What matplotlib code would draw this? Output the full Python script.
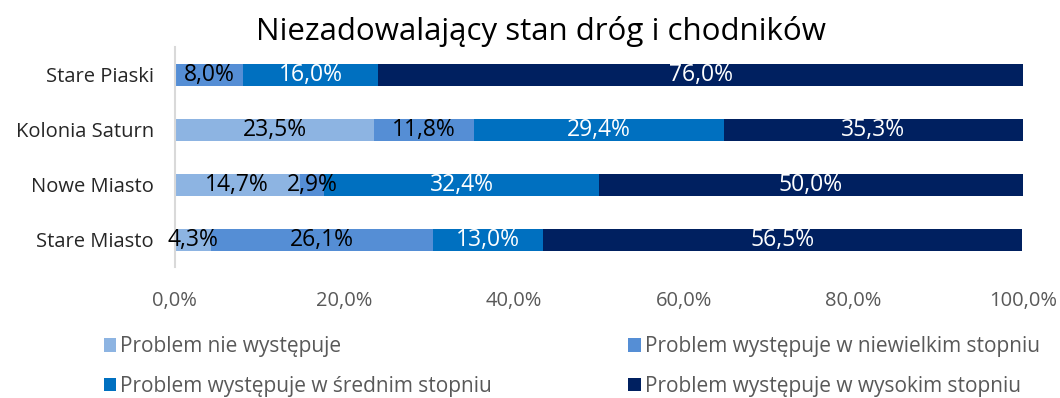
import matplotlib.pyplot as plt
import numpy as np

plt.rcParams['font.family'] = ['Open Sans', 'DejaVu Sans']

# districts, bottom to top
districts = ['Stare Miasto', 'Nowe Miasto', 'Kolonia Saturn', 'Stare Piaski']

# share of answers (%) per district
nie_wystepuje = [4.3, 14.7, 23.5, 0.0]
niewielki = [26.1, 2.9, 11.8, 8.0]
sredni = [13.0, 32.4, 29.4, 16.0]
wysoki = [56.5, 50.0, 35.3, 76.0]

series_names = ['Problem nie występuje',
                'Problem występuje w niewielkim stopniu',
                'Problem występuje w średnim stopniu',
                'Problem występuje w wysokim stopniu']
series = [nie_wystepuje, niewielki, sredni, wysoki]
colors = ['#8DB4E2', '#558ED5', '#0070C0', '#002060']
text_colors = ['black', 'black', 'white', 'white']

fig = plt.figure(figsize=(10.6, 3.98), dpi=100)
ax = fig.add_axes([0.165, 0.328, 0.8, 0.553])

y = np.arange(len(districts))
left = np.zeros(len(districts))
handles = []
for name, vals, col, tcol in zip(series_names, series, colors, text_colors):
    vals = np.array(vals)
    bars = ax.barh(y, vals, left=left, height=0.4, color=col, label=name)
    handles.append(bars)
    for yi, l, v in zip(y, left, vals):
        if v > 0:
            ax.text(l + v / 2, yi, f'{v:.1f}%'.replace('.', ','),
                    ha='center', va='center', color=tcol, fontsize=16.5)
    left += vals

ax.set_xlim(0, 100)
ax.set_ylim(-0.5, 3.5)
ax.set_yticks(y)
ax.set_yticklabels(districts, fontsize=14.5, color='#262626')
ax.set_xticks(np.arange(0, 101, 20))
ax.set_xticklabels([f'{t:.1f}%'.replace('.', ',') for t in range(0, 101, 20)],
                   fontsize=14.5, color='#595959')
ax.tick_params(axis='both', length=0)
ax.tick_params(axis='x', pad=17)
ax.tick_params(axis='y', pad=15)
for s in ['top', 'right', 'bottom']:
    ax.spines[s].set_visible(False)
ax.spines['left'].set_color('#D9D9D9')
ax.spines['left'].set_linewidth(1.5)

fig.suptitle('Niezadowalający stan dróg i chodników', fontsize=22.5,
             x=0.51, y=0.96)

# two-column legend, filled column-wise
order = [0, 2, 1, 3]
leg = fig.legend([handles[i] for i in order], [series_names[i] for i in order],
                 ncol=2, loc='lower left', bbox_to_anchor=(0.08, -0.045),
                 frameon=False, fontsize=15, handlelength=0.6, handleheight=0.6,
                 handletextpad=0.2, columnspacing=6.55, labelspacing=0.9)
for t in leg.get_texts():
    t.set_color('#595959')

fig.savefig('out.png', dpi=100)
